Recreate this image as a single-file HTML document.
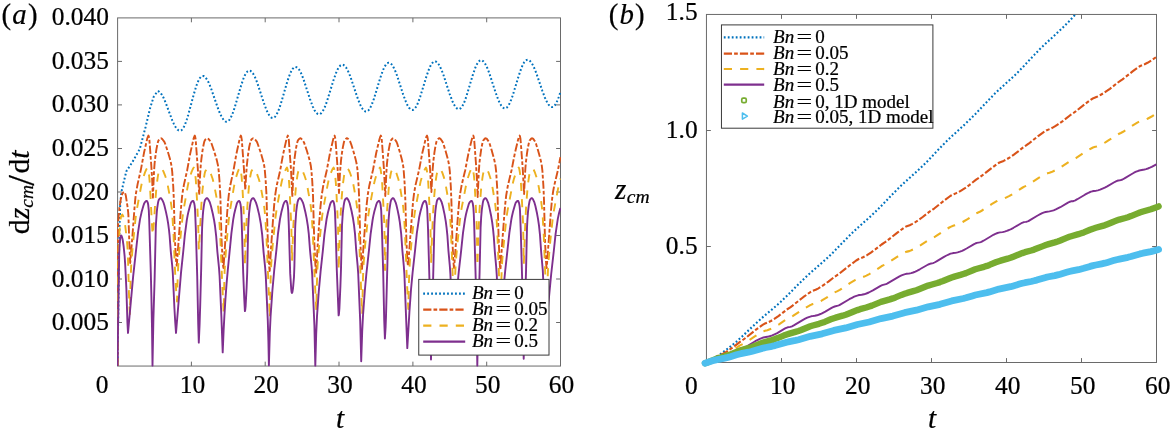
<!DOCTYPE html>
<html lang="en"><head><meta charset="utf-8"><title>Figure</title>
<style>html,body{margin:0;padding:0;background:#fff}body{width:1170px;height:437px;overflow:hidden}</style>
</head><body>
<svg width="1170" height="437" viewBox="0 0 1170 437" style="display:block;will-change:transform;font-family:'Liberation Serif','Times New Roman',serif" fill="#000000">
<style>text{stroke:#000;stroke-width:0.22px}</style>
<rect width="1170" height="437" fill="#fff"/>
<defs><clipPath id="ca"><rect x="117.0" y="17.9" width="444.0" height="348.65000000000003"/></clipPath><clipPath id="cb"><rect x="698.45" y="14.45" width="466.04999999999995" height="356.05"/></clipPath></defs>
<g stroke="#6a6a6a" stroke-width="1.0" fill="none"><rect x="117.6" y="17.9" width="442.9" height="348.15000000000003"/><path d="M191.4,366.05v-4.4M191.4,17.9v4.4M265.2,366.05v-4.4M265.2,17.9v4.4M339.0,366.05v-4.4M339.0,17.9v4.4M412.9,366.05v-4.4M412.9,17.9v4.4M486.7,366.05v-4.4M486.7,17.9v4.4M117.6,322.5h4.4M560.5,322.5h-4.4M117.6,279.0h4.4M560.5,279.0h-4.4M117.6,235.5h4.4M560.5,235.5h-4.4M117.6,192.0h4.4M560.5,192.0h-4.4M117.6,148.5h4.4M560.5,148.5h-4.4M117.6,104.9h4.4M560.5,104.9h-4.4M117.6,61.4h4.4M560.5,61.4h-4.4"/></g>
<g clip-path="url(#ca)" fill="none" stroke-linejoin="round">
<path d="M117.6,366.1L119.2,240.0L120.2,205.0L121.4,192.0L123.8,181.6L126.4,171.2L132.4,162.1L139.8,148.9L145.6,126.9L150.0,108.5L153.6,97.0L157.4,91.3L157.6,91.2L158.2,91.3L159.0,91.6L160.4,92.8L161.8,94.7L163.4,97.5L166.0,103.6L172.2,120.2L173.6,123.4L175.0,126.2L176.4,128.4L177.6,129.7L178.8,130.5L180.0,130.8L180.6,130.7L181.2,130.4L181.8,130.0L182.6,129.0L184.0,126.7L185.4,123.5L186.8,119.5L188.2,115.0L193.8,94.3L196.2,86.4L197.4,83.0L198.6,80.3L199.8,78.2L201.0,76.8L201.8,76.2L202.4,76.0L203.2,76.0L204.0,76.3L204.8,76.9L205.6,77.6L207.4,80.2L209.0,83.3L210.8,87.7L217.6,107.3L219.2,111.5L220.6,114.8L222.2,117.8L223.8,120.1L224.6,120.8L225.4,121.4L226.2,121.7L227.0,121.7L227.6,121.5L228.2,121.1L229.4,119.9L230.6,118.0L231.8,115.5L233.2,112.0L234.6,107.8L240.8,86.5L243.4,78.7L244.8,75.4L246.2,72.9L247.6,71.3L248.4,70.8L249.0,70.6L250.2,70.8L250.8,71.1L251.6,71.7L253.0,73.4L254.4,75.9L256.0,79.5L257.6,83.8L263.8,102.8L266.6,110.3L268.2,113.7L269.7,116.0L270.4,116.8L271.2,117.5L272.0,117.9L272.6,118.0L273.2,118.0L273.8,117.8L274.4,117.4L275.2,116.6L276.4,114.9L277.8,112.1L279.2,108.6L280.8,103.9L286.8,83.3L288.2,78.9L289.6,75.0L291.2,71.3L292.6,68.9L294.0,67.4L294.8,67.0L295.4,66.9L296.6,67.2L298.0,68.2L299.2,69.7L300.6,72.2L302.2,75.8L303.8,80.1L310.0,99.1L312.8,106.6L314.4,110.0L315.8,112.2L316.6,113.1L317.4,113.8L318.2,114.2L318.8,114.3L320.0,114.1L320.6,113.7L321.4,113.0L322.8,111.1L324.2,108.5L325.6,105.1L327.2,100.6L333.4,80.5L336.2,72.6L337.8,69.1L339.2,66.8L340.6,65.3L341.4,64.9L342.0,64.7L342.6,64.7L343.4,64.9L344.8,66.0L346.2,67.7L347.6,70.2L349.2,73.7L350.8,77.9L357.0,96.4L359.8,103.8L361.4,107.1L362.8,109.3L363.6,110.2L364.4,110.9L365.2,111.4L365.8,111.6L366.4,111.6L367.0,111.4L367.6,111.1L368.4,110.5L369.8,108.6L371.2,105.9L372.6,102.5L374.0,98.6L380.2,78.2L381.6,74.0L383.0,70.2L384.4,67.1L385.8,64.8L387.2,63.3L388.0,62.9L388.6,62.7L389.8,62.9L390.4,63.2L391.2,63.9L392.6,65.7L394.0,68.2L395.4,71.3L397.0,75.5L403.2,94.6L406.0,102.1L407.6,105.5L409.0,107.7L410.4,109.2L411.2,109.7L411.8,109.9L412.6,110.0L413.2,109.8L414.4,109.0L415.8,107.2L417.2,104.6L418.6,101.3L420.2,96.8L426.4,76.5L429.0,69.1L430.4,66.0L431.8,63.6L433.2,62.1L434.0,61.6L434.6,61.4L435.2,61.4L436.0,61.6L437.4,62.7L438.8,64.5L440.2,67.0L441.8,70.6L443.4,74.8L449.6,93.8L452.4,101.2L454.0,104.6L455.4,106.9L456.8,108.4L457.6,108.9L458.2,109.1L459.0,109.2L459.6,109.0L460.8,108.2L462.2,106.4L463.6,103.8L465.0,100.4L466.6,95.7L472.6,75.6L475.2,68.0L476.6,64.8L478.0,62.4L479.4,60.8L480.6,60.2L481.2,60.2L482.0,60.4L483.4,61.4L484.8,63.1L486.4,66.0L487.8,69.2L489.4,73.5L495.6,92.5L498.4,100.1L499.8,103.2L501.2,105.6L502.6,107.3L503.4,107.9L504.0,108.2L504.8,108.4L505.4,108.3L506.0,108.1L506.8,107.6L508.2,105.9L509.8,103.0L511.2,99.7L512.8,95.2L518.8,75.5L521.4,68.0L522.8,64.8L524.2,62.3L525.6,60.6L526.8,59.9L527.6,59.8L528.4,60.0L529.2,60.4L530.0,61.0L531.6,62.9L533.2,65.7L534.8,69.3L536.4,73.4L542.4,91.0L544.8,97.4L546.0,100.1L547.2,102.5L548.4,104.4L549.6,105.8L551.0,106.8L551.8,107.1L552.4,107.1L553.0,106.9L553.6,106.6L554.8,105.4L556.0,103.6L557.4,100.6L558.8,97.0L560.4,92.1" stroke="#0072BD" stroke-width="2" stroke-dasharray="1.8 2.18"/>
<path d="M117.6,366.1L118.0,230.3L118.4,218.6L119.4,208.2L120.8,199.2L121.6,195.7L122.2,193.9L123.4,192.4L124.0,192.0L124.4,192.0L125.0,192.9L125.8,195.5L127.6,207.2L128.2,212.5L128.4,215.4L129.2,239.3L130.2,263.0L132.4,236.4L134.6,206.6L135.4,197.9L136.0,193.2L137.6,184.1L141.0,169.1L144.0,152.8L147.0,139.6L147.6,137.5L148.4,135.6L148.6,135.8L148.8,136.4L149.4,139.9L151.2,164.0L152.2,180.4L152.9,197.6L154.0,171.7L154.6,163.4L155.2,158.0L156.4,149.4L157.6,143.2L158.4,140.6L159.8,138.8L160.4,138.4L161.0,138.3L161.6,138.5L162.4,139.2L164.4,141.9L165.4,144.4L168.0,152.3L170.0,159.1L171.0,163.3L171.6,166.5L172.2,171.6L173.2,185.8L173.8,198.3L174.6,230.4L175.0,241.7L176.0,259.6L176.4,264.0L176.6,265.2L176.8,265.6L180.8,210.5L181.6,201.0L182.2,195.4L183.0,189.9L184.0,184.4L187.2,170.2L190.2,153.6L193.6,138.5L194.4,136.2L194.6,135.8L194.8,135.6L195.2,136.9L195.6,139.0L197.8,168.3L199.2,195.0L200.0,176.5L200.8,164.6L201.4,158.9L202.4,151.3L203.0,147.6L203.8,143.7L204.4,141.3L204.8,140.4L205.8,139.1L206.8,138.3L207.6,138.4L208.4,138.9L209.4,140.0L210.8,141.9L211.6,143.8L213.8,150.2L216.8,160.1L218.0,165.5L218.8,171.8L219.6,182.3L220.4,197.6L221.4,235.5L221.8,244.8L222.7,261.1L223.2,266.6L223.5,268.0L227.2,212.5L228.0,202.4L228.8,194.8L230.4,184.7L233.4,171.0L236.2,154.9L239.6,139.1L240.2,137.0L240.8,135.6L241.0,135.8L241.2,136.4L241.8,139.9L244.0,169.7L245.3,190.0L246.0,177.0L246.8,165.8L247.8,156.5L249.2,147.0L250.4,141.7L250.8,140.6L251.6,139.4L252.4,138.6L253.2,138.3L254.2,138.6L255.2,139.6L256.8,141.7L257.4,143.0L260.8,152.9L263.4,161.9L264.2,165.7L264.8,170.1L265.6,179.6L266.4,193.4L267.8,240.9L268.9,262.6L269.4,268.9L269.7,271.0L271.2,245.9L273.0,219.9L274.2,204.6L275.2,195.1L276.0,189.8L277.0,184.3L280.2,170.3L283.0,154.8L286.4,139.6L287.0,137.5L287.8,135.6L288.0,135.8L288.2,136.4L288.8,139.9L291.0,169.9L291.8,184.6L292.3,197.0L293.6,168.3L294.4,159.6L295.8,149.4L297.0,143.2L297.8,140.6L298.8,139.2L299.8,138.4L300.6,138.3L301.4,138.8L302.6,140.2L304.0,142.4L306.8,150.5L309.0,157.9L310.0,161.8L310.8,165.7L311.4,170.3L312.2,180.4L313.0,195.1L314.2,239.3L315.3,263.6L316.1,274.0L317.6,246.7L319.0,225.9L320.4,207.6L321.6,195.8L323.2,185.9L326.8,170.2L330.0,153.0L333.2,139.2L334.0,136.7L334.4,135.8L334.6,135.6L335.2,137.9L335.6,141.1L337.6,168.3L339.0,193.0L340.0,172.6L341.0,160.6L342.0,152.7L342.8,147.6L343.8,142.8L344.2,141.3L344.6,140.4L345.4,139.3L346.0,138.7L346.6,138.3L347.2,138.3L347.8,138.6L348.4,139.2L350.2,141.7L351.2,144.3L353.4,151.3L355.4,158.4L356.4,162.7L357.0,165.9L357.6,171.0L358.6,185.7L359.2,199.3L360.2,239.4L361.2,260.5L361.6,266.1L362.0,269.0L363.4,247.9L365.8,215.3L366.8,203.3L367.8,194.5L369.4,185.2L373.0,169.9L376.2,153.0L379.4,139.4L380.0,137.4L380.8,135.6L381.0,135.8L381.2,136.4L381.6,138.4L382.0,142.5L384.0,169.9L385.3,196.0L386.4,171.8L387.0,163.4L387.6,158.0L388.8,149.4L390.0,143.2L390.8,140.6L392.2,138.8L392.8,138.4L393.4,138.3L394.0,138.6L394.6,139.1L396.4,141.6L397.2,143.5L399.4,150.6L401.4,157.7L402.4,161.8L403.2,166.1L403.6,169.3L404.6,183.0L405.4,201.6L406.4,241.2L407.4,260.5L407.8,264.8L408.1,266.0L412.4,209.3L413.2,200.4L414.0,193.8L415.4,185.7L419.2,169.4L422.2,153.5L425.6,139.1L426.2,137.2L426.8,135.8L427.0,135.6L427.4,136.9L427.8,139.0L428.0,141.1L430.0,168.3L431.4,192.0L432.4,172.5L433.4,160.7L434.4,152.7L435.2,147.6L436.2,142.8L436.6,141.3L437.0,140.4L437.8,139.3L438.4,138.7L439.0,138.3L439.6,138.3L440.2,138.6L440.8,139.2L442.6,141.9L443.4,143.9L445.8,151.7L447.6,158.3L448.6,162.6L449.2,165.9L449.8,171.1L450.8,186.3L451.4,200.9L452.4,241.0L453.4,261.4L453.8,266.3L454.1,268.0L458.2,212.4L459.2,201.1L460.0,194.4L461.6,185.3L465.2,170.2L468.4,153.6L471.8,139.4L472.4,137.4L473.2,135.6L473.4,135.8L473.6,136.4L474.2,139.9L476.0,164.0L477.0,180.5L477.7,197.0L478.8,171.7L479.4,163.4L480.0,158.0L481.2,149.4L482.4,143.2L483.2,140.6L484.6,138.8L485.2,138.4L485.8,138.3L486.4,138.6L487.0,139.1L488.8,141.7L489.8,144.2L492.0,151.4L494.0,158.7L495.0,163.1L495.6,166.6L496.2,172.2L497.2,188.3L497.6,197.5L498.6,238.4L499.6,260.7L500.0,266.7L500.4,270.0L502.0,245.7L504.2,216.2L505.2,204.4L506.2,195.4L507.8,186.0L511.6,170.0L514.8,153.5L518.2,139.3L518.8,137.4L519.6,135.6L519.8,135.8L520.0,136.4L520.4,138.4L520.8,142.5L522.8,169.9L524.1,194.0L525.0,174.5L525.4,168.2L526.0,161.5L527.0,153.4L527.8,148.2L528.8,143.2L529.6,140.6L531.0,138.8L531.6,138.4L532.2,138.3L532.8,138.6L533.4,139.1L535.2,141.7L536.0,143.7L538.2,150.9L540.2,158.1L541.2,162.4L541.8,165.7L542.4,170.8L543.4,185.9L544.0,200.2L545.0,240.7L546.0,261.4L546.4,266.3L546.7,268.0L550.6,215.4L551.6,203.7L552.4,196.3L553.2,191.0L554.2,185.7L558.0,169.8L560.4,157.2" stroke="#D95319" stroke-width="1.9" stroke-dasharray="8.2 2.1 3.7 2.1"/>
<path d="M117.6,366.1L118.2,278.0L118.6,250.2L119.6,230.0L120.0,224.8L120.8,217.8L121.0,216.8L121.4,215.8L122.0,214.8L122.4,214.6L123.0,215.7L123.6,217.7L124.6,222.0L125.2,225.5L127.0,241.1L127.6,249.4L128.0,258.5L129.0,294.4L129.6,309.8L129.9,314.0L130.6,280.0L131.2,265.2L132.8,245.1L135.6,218.0L137.0,208.5L141.0,187.0L142.2,181.3L143.4,177.1L145.0,172.4L146.2,169.6L147.4,167.7L147.6,167.6L147.8,168.0L148.4,170.6L149.2,176.3L149.6,180.9L150.6,197.8L151.8,222.0L152.6,235.0L153.2,230.3L154.0,221.5L155.4,199.9L156.4,187.8L157.6,178.1L158.2,174.4L158.8,171.8L159.2,170.9L159.8,170.0L160.8,168.9L161.2,168.7L161.6,168.7L162.4,169.6L163.6,171.8L165.0,175.3L166.4,179.4L167.4,183.4L170.8,201.8L171.6,207.5L172.2,213.4L173.4,231.5L175.0,269.8L175.6,281.7L176.4,294.8L177.0,301.5L177.6,280.2L178.2,266.3L179.4,249.5L180.8,234.1L182.4,218.4L183.4,210.8L187.8,185.9L189.0,180.2L190.4,175.4L191.6,171.9L192.6,169.5L193.6,167.8L193.8,167.6L194.0,167.8L194.2,168.3L195.0,172.5L195.8,179.6L197.0,199.8L198.2,224.9L198.9,250.0L201.4,204.2L202.4,191.1L203.4,181.5L204.6,173.9L205.0,172.2L205.6,170.7L206.8,169.1L207.4,168.7L207.8,168.6L208.6,169.4L209.6,171.0L211.0,174.2L212.6,178.7L214.0,184.1L217.2,201.0L218.0,206.3L218.6,211.5L219.4,221.7L220.2,235.3L222.2,282.3L223.7,313.0L224.2,286.1L224.6,271.6L225.2,260.4L226.4,244.7L228.6,221.3L229.6,212.7L233.8,187.7L235.0,181.4L236.0,177.5L237.6,172.4L238.8,169.4L239.8,167.7L240.0,167.6L240.2,168.0L240.6,169.5L241.6,176.3L242.6,190.6L244.2,222.2L244.6,238.0L245.0,265.0L246.0,234.9L246.8,216.3L247.6,202.7L249.0,185.8L250.2,176.8L251.2,171.8L251.6,170.9L252.2,170.0L253.2,168.9L253.8,168.7L254.6,169.3L255.6,170.8L256.8,173.4L258.8,179.0L259.6,181.8L260.8,187.3L263.2,200.1L264.0,205.1L264.6,209.9L265.4,219.2L266.4,235.8L269.9,318.0L270.6,279.6L271.2,264.4L272.8,244.0L275.4,218.1L276.8,208.2L280.8,186.1L281.8,181.2L283.0,176.9L284.6,172.0L285.8,169.3L286.8,167.7L287.0,167.6L287.2,168.0L287.6,169.5L288.6,176.3L289.2,183.9L289.8,194.1L291.4,228.2L292.0,261.0L293.2,229.1L294.4,205.7L296.0,185.8L296.6,180.8L297.6,174.4L298.2,171.8L298.6,170.9L299.2,170.0L300.0,169.1L300.6,168.7L301.0,168.7L301.4,169.1L302.0,169.9L302.8,171.4L304.2,174.8L305.8,179.5L307.0,184.5L310.4,203.5L311.2,209.9L311.8,216.8L312.8,233.1L314.8,280.8L316.3,310.0L316.8,286.6L317.4,268.6L318.0,259.1L319.4,242.4L321.6,220.7L322.6,212.7L323.4,207.8L327.2,187.1L328.4,181.2L329.6,177.0L331.2,172.2L332.4,169.4L333.6,167.6L333.8,167.8L334.2,169.0L335.2,175.4L335.8,182.3L336.4,192.3L338.0,224.9L338.7,270.0L339.6,239.2L340.4,218.5L341.4,201.3L342.8,184.8L344.0,176.1L344.6,173.0L345.0,171.5L346.2,169.6L346.8,169.0L347.4,168.7L347.6,168.6L348.0,169.0L349.0,170.5L350.0,172.8L351.2,176.2L352.2,179.4L353.0,182.7L354.2,189.0L356.2,200.8L357.4,210.2L358.2,220.9L359.0,235.6L361.0,286.8L362.2,314.0L363.0,276.7L363.6,263.7L365.2,244.2L368.0,217.4L369.4,208.1L373.4,186.8L374.6,181.2L375.8,177.0L377.4,172.3L378.6,169.6L379.8,167.7L380.0,167.6L380.2,168.0L380.6,169.5L381.6,176.3L382.2,183.9L383.0,197.8L384.2,222.1L384.4,228.6L385.0,270.0L386.2,230.7L387.2,208.8L388.8,187.8L389.4,182.3L390.4,175.5L391.0,172.5L391.4,171.3L392.2,170.0L392.8,169.2L393.4,168.8L393.8,168.7L394.0,168.7L394.6,169.4L395.2,170.4L396.6,173.7L398.4,179.3L399.4,183.5L402.6,202.2L403.4,208.6L404.0,215.5L405.0,232.5L407.0,283.1L408.3,309.0L408.8,286.7L409.4,269.1L410.0,259.7L411.6,241.1L413.8,220.0L414.8,212.3L419.4,187.4L420.6,181.6L421.8,177.3L423.6,172.1L424.8,169.4L426.0,167.6L426.2,167.8L426.6,169.0L427.6,175.4L428.2,182.3L428.8,192.3L430.4,224.9L431.1,262.0L432.0,236.6L433.0,214.4L433.8,201.3L435.2,184.8L436.4,176.1L437.0,173.0L437.4,171.5L438.6,169.6L439.2,169.0L439.8,168.7L440.0,168.6L440.4,169.0L441.4,170.6L442.4,172.9L443.6,176.4L444.6,179.7L445.4,183.2L448.4,200.6L449.6,210.2L450.2,218.0L451.0,232.0L453.0,283.3L454.3,312.0L455.0,280.3L455.4,269.4L456.0,260.0L457.4,243.7L459.6,222.7L460.8,213.0L461.8,207.2L466.6,182.5L467.6,178.7L469.6,172.7L471.0,169.5L472.2,167.7L472.4,167.6L472.8,168.6L473.8,174.7L474.2,178.3L474.8,187.1L476.6,222.2L477.0,238.2L477.4,266.0L478.4,235.2L479.2,216.3L480.0,202.7L481.2,187.8L482.4,178.1L483.0,174.4L483.6,171.8L484.4,170.3L485.4,169.1L486.2,168.7L486.8,169.1L487.8,170.8L488.8,173.2L490.6,178.7L491.4,181.8L492.6,188.0L494.6,200.0L495.4,205.7L496.0,211.3L496.6,219.5L497.4,234.2L500.6,315.0L501.2,284.9L501.8,267.6L502.2,261.3L503.4,247.1L506.0,222.0L506.8,215.4L507.6,210.2L512.6,184.1L514.0,178.6L515.6,173.8L516.8,170.7L517.6,169.1L518.4,167.9L518.8,167.6L519.0,168.0L519.4,169.5L520.0,173.2L520.4,176.3L520.8,180.9L521.8,197.8L523.0,222.2L523.4,237.7L523.8,264.0L525.0,229.6L526.0,208.9L526.6,199.9L527.6,187.8L528.2,182.3L529.2,175.5L529.8,172.5L530.2,171.3L531.0,170.0L531.6,169.2L532.2,168.8L532.6,168.7L532.8,168.7L533.8,170.0L535.0,172.7L536.8,178.1L537.8,182.0L539.0,188.3L541.2,201.7L542.0,208.0L542.6,214.7L543.8,235.9L545.6,283.1L546.9,312.0L547.6,280.6L548.0,269.7L548.6,260.2L550.4,240.0L552.6,219.6L553.6,212.2L558.6,185.9L559.6,181.4L560.4,178.5" stroke="#EDB120" stroke-width="1.9" stroke-dasharray="8.2 8.1"/>
<path d="M117.6,366.1L118.0,329.9L119.2,254.6L119.6,245.2L120.0,240.1L120.4,237.1L121.0,235.7L121.2,235.5L121.4,235.6L121.8,236.4L122.4,238.4L122.8,240.5L123.6,246.2L124.6,255.8L125.2,264.8L126.4,289.3L127.4,321.9L128.0,333.0L133.2,275.8L138.0,232.7L140.0,219.4L141.6,212.1L143.4,205.7L144.2,203.4L145.0,202.1L145.8,201.3L146.4,200.9L146.8,200.9L147.4,201.7L147.8,202.8L148.2,204.8L148.8,210.4L149.2,219.7L150.8,272.3L151.4,296.2L152.0,327.4L152.5,366.1L153.4,319.0L154.6,279.5L155.8,227.8L156.0,223.5L156.8,211.9L157.2,208.2L158.0,202.9L158.4,201.0L158.8,199.9L159.6,198.8L160.4,198.1L160.8,198.1L161.2,198.4L162.4,200.2L163.4,202.3L164.4,205.5L166.0,212.1L167.2,217.9L168.2,223.9L169.0,230.0L169.6,235.7L170.8,251.6L172.2,265.7L172.8,273.3L174.4,307.7L175.2,321.7L176.0,333.0L181.0,272.9L183.4,250.0L184.8,235.3L186.8,220.2L187.6,215.6L188.4,211.9L190.0,205.7L190.8,203.2L191.2,202.4L192.0,201.4L192.6,201.0L193.0,200.9L193.2,200.9L193.6,201.5L194.2,203.2L194.6,205.4L195.0,208.9L195.8,228.4L197.2,275.9L198.2,323.4L198.8,342.6L199.6,324.4L200.2,305.5L201.2,268.1L202.0,231.5L202.2,225.5L202.8,215.4L203.2,210.9L203.8,206.1L204.4,202.4L205.0,200.1L206.0,198.7L206.6,198.2L207.0,198.1L207.6,198.5L208.2,199.3L209.8,202.3L211.0,206.2L212.8,213.7L214.0,219.7L215.0,226.0L216.2,236.4L217.4,252.0L219.0,267.9L219.6,276.3L221.4,316.8L222.7,352.4L223.6,330.9L224.4,315.6L225.4,299.5L226.6,283.4L227.8,270.0L231.4,233.3L233.2,219.6L234.2,214.0L235.2,209.7L236.8,203.7L237.4,202.3L238.4,201.2L238.8,200.9L239.2,200.9L239.6,201.3L240.0,202.2L240.6,204.8L241.0,207.9L241.4,214.5L241.8,225.4L243.2,272.9L244.2,297.5L244.9,311.1L245.2,310.2L245.6,306.4L246.6,287.8L247.2,272.7L248.2,227.8L249.0,214.1L249.8,206.8L250.4,202.9L251.0,200.4L252.0,198.8L252.8,198.1L253.0,198.1L253.4,198.2L254.4,199.4L256.0,202.6L257.2,206.5L259.2,214.9L260.8,223.6L262.2,234.8L263.6,252.4L265.2,268.2L265.8,276.6L267.8,320.8L268.4,341.2L268.9,365.5L269.8,333.2L270.6,316.0L272.4,290.5L274.2,270.5L276.4,249.9L278.0,233.5L280.0,219.0L281.4,212.1L283.4,204.6L284.2,202.5L285.0,201.5L285.6,201.0L286.0,200.9L286.4,201.0L287.2,202.8L287.8,206.2L288.2,210.4L288.8,225.4L290.2,273.4L291.2,288.8L291.6,292.2L291.9,293.0L292.2,292.6L292.4,292.0L293.0,288.4L294.0,276.8L294.4,265.9L295.2,227.8L295.4,223.5L296.2,211.9L296.8,206.8L297.6,201.9L298.2,199.9L299.0,198.8L299.6,198.2L300.0,198.1L300.4,198.3L301.0,198.9L301.6,199.9L302.8,202.3L303.6,204.8L305.4,212.2L306.6,218.1L307.8,225.7L308.8,234.2L310.0,250.0L311.6,266.5L312.2,274.6L314.4,325.3L315.3,366.1L316.2,333.7L317.0,316.4L318.8,291.3L320.6,271.4L322.8,251.1L324.4,234.9L326.6,219.0L328.0,212.2L330.0,204.7L330.8,202.6L331.4,201.8L332.2,201.1L332.6,200.9L333.0,200.9L333.6,202.0L334.0,203.2L334.6,207.0L335.0,212.3L335.6,228.4L336.8,270.0L338.6,315.4L338.8,314.9L339.0,313.5L339.4,308.4L340.4,286.3L341.0,269.0L342.0,225.5L342.8,212.9L343.6,206.1L344.2,202.4L344.8,200.1L345.6,198.9L346.4,198.2L346.8,198.1L347.4,198.6L348.0,199.5L348.8,201.0L349.8,203.7L351.6,211.2L352.8,217.2L354.0,224.9L355.0,233.8L356.2,250.3L357.6,265.4L358.2,273.5L360.2,321.1L361.2,361.2L362.2,331.2L363.0,315.7L364.8,291.0L366.4,273.5L369.0,249.9L370.6,234.1L372.6,220.0L373.4,215.6L374.4,211.3L376.2,204.9L376.8,203.2L377.2,202.4L378.2,201.3L378.8,200.9L379.2,200.9L379.8,201.7L380.2,202.8L380.6,204.8L381.2,210.4L381.8,225.4L383.2,272.3L384.2,320.0L384.9,338.5L385.6,327.1L386.0,316.5L387.4,264.0L388.2,227.8L388.6,219.9L389.4,209.9L390.6,201.9L391.0,200.4L391.6,199.3L392.4,198.4L392.8,198.1L393.2,198.1L393.6,198.5L394.2,199.3L395.6,202.3L396.4,205.0L397.6,210.1L398.8,216.0L399.8,222.1L401.2,234.0L402.4,250.7L403.8,266.0L404.4,274.5L407.3,348.1L409.4,312.2L411.0,289.8L412.6,272.6L415.0,250.9L416.8,233.3L419.2,217.1L420.4,211.7L422.2,205.2L423.2,202.6L424.0,201.6L424.6,201.1L425.0,200.9L425.4,200.9L426.2,202.5L426.8,205.4L427.2,208.9L428.0,228.4L429.8,292.3L431.0,359.5L431.8,323.3L433.2,275.9L434.4,225.5L434.8,218.3L435.4,210.9L436.0,206.1L436.8,201.5L437.2,200.1L437.8,199.2L438.6,198.3L439.2,198.1L439.6,198.4L440.2,199.2L441.6,202.0L442.8,206.3L444.6,214.6L445.8,221.7L446.6,227.8L447.4,235.7L448.4,250.3L449.8,265.7L450.4,274.1L452.2,320.1L453.3,340.0L454.6,325.8L456.4,298.2L457.4,285.9L458.8,271.5L461.2,250.2L463.0,232.9L465.0,219.3L466.0,214.3L467.0,210.3L468.6,204.7L469.4,202.7L470.0,201.9L470.8,201.1L471.4,200.9L471.8,201.0L472.4,202.2L472.8,203.6L473.4,207.9L473.8,214.5L474.2,225.4L476.2,296.2L476.8,327.4L477.3,366.1L478.0,327.3L479.6,272.0L480.6,227.8L481.2,216.8L481.8,209.9L482.8,202.9L483.2,201.0L483.6,199.9L484.2,199.0L484.8,198.4L485.2,198.1L485.6,198.1L486.2,198.7L486.8,199.7L488.2,202.9L489.4,207.6L491.0,215.2L492.2,222.4L493.0,228.7L493.8,236.9L494.8,251.5L496.2,266.9L496.8,275.9L499.6,345.0L502.4,302.6L503.6,287.3L505.2,270.8L509.4,232.6L511.2,220.3L511.8,217.0L513.0,211.7L515.0,204.7L515.6,203.0L516.0,202.3L516.8,201.4L517.4,201.0L517.8,200.9L518.2,201.0L519.0,202.8L519.6,206.2L520.0,210.4L520.8,231.9L522.4,287.9L523.7,358.7L524.6,319.6L526.0,272.0L527.0,227.8L527.4,219.9L528.0,211.9L528.8,205.4L529.6,201.0L530.0,199.9L530.8,198.8L531.4,198.2L531.8,198.1L532.0,198.1L532.4,198.5L533.0,199.3L534.4,202.4L535.4,206.0L537.0,213.3L538.0,218.8L539.0,225.7L540.0,235.2L541.2,252.3L542.8,270.6L544.6,310.3L545.2,320.7L545.9,330.0L551.2,274.0L553.8,251.0L555.6,233.8L557.8,218.9L559.0,213.2L560.4,208.0" stroke="#7E2F8E" stroke-width="1.9"/>
</g>
<g font-size="25.4">
<text x="108.9" y="330.0" text-anchor="end">0.005</text>
<text x="108.9" y="286.5" text-anchor="end">0.010</text>
<text x="108.9" y="243.0" text-anchor="end">0.015</text>
<text x="108.9" y="199.5" text-anchor="end">0.020</text>
<text x="108.9" y="156.0" text-anchor="end">0.025</text>
<text x="108.9" y="112.4" text-anchor="end">0.030</text>
<text x="108.9" y="68.9" text-anchor="end">0.035</text>
<text x="108.9" y="25.4" text-anchor="end">0.040</text>
<text x="102.2" y="393.4" text-anchor="middle">0</text>
<text x="192.4" y="393.4" text-anchor="middle">10</text>
<text x="266.2" y="393.4" text-anchor="middle">20</text>
<text x="340.0" y="393.4" text-anchor="middle">30</text>
<text x="413.9" y="393.4" text-anchor="middle">40</text>
<text x="487.7" y="393.4" text-anchor="middle">50</text>
<text x="561.5" y="393.4" text-anchor="middle">60</text>
</g>
<text x="340" y="427.8" font-size="29.5" font-style="italic" text-anchor="middle">t</text>
<text x="1.6" y="24.3" font-size="28.8">(<tspan font-style="italic" dx="1.1">a</tspan><tspan dx="1.2">)</tspan></text>
<text transform="translate(28.7,234.3) rotate(-90)" font-size="29.8"><tspan x="0">d</tspan><tspan x="15.0" font-style="italic">z</tspan><tspan x="26.6" dy="4.6" font-style="italic" font-size="19.5">cm</tspan><tspan x="48.6" dy="0.9" font-size="38.4">/</tspan><tspan x="60.8" dy="-5.5">d</tspan><tspan x="75.6" font-style="italic">t</tspan></text>
<rect x="418.75" y="279.4" width="130.25" height="75.7" fill="#fff" stroke="#3a3a3a" stroke-width="1.0"/>
<g fill="none" stroke-width="2.2">
<path d="M423.2,293.6H465.2" stroke="#0072BD" stroke-dasharray="1.8 2.18"/>
<path d="M423.2,309.6H465.2" stroke="#D95319" stroke-dasharray="8.2 2.1 3.7 2.1"/>
<path d="M423.2,325.6H465.2" stroke="#EDB120" stroke-dasharray="8.2 8.1"/>
<path d="M423.2,341.6H465.2" stroke="#7E2F8E"/>
</g>
<text x="472.0" y="298.8" font-size="19.0" font-style="italic">Bn</text><text transform="translate(503.3,298.8) scale(1.46,1)" font-size="19.0" text-anchor="middle">=</text><text x="514.2" y="298.8" font-size="19.0">0</text>
<text x="472.0" y="315.0" font-size="19.0" font-style="italic">Bn</text><text transform="translate(503.3,315.0) scale(1.46,1)" font-size="19.0" text-anchor="middle">=</text><text x="514.2" y="315.0" font-size="19.0">0.05</text>
<text x="472.0" y="331.3" font-size="19.0" font-style="italic">Bn</text><text transform="translate(503.3,331.3) scale(1.46,1)" font-size="19.0" text-anchor="middle">=</text><text x="514.2" y="331.3" font-size="19.0">0.2</text>
<text x="472.0" y="347.4" font-size="19.0" font-style="italic">Bn</text><text transform="translate(503.3,347.4) scale(1.46,1)" font-size="19.0" text-anchor="middle">=</text><text x="514.2" y="347.4" font-size="19.0">0.5</text>
<g stroke="#6a6a6a" stroke-width="1.0" fill="none"><rect x="706.45" y="14.45" width="450.04999999999995" height="348.05"/><path d="M781.5,362.5v-4.4M781.5,14.45v4.4M856.5,362.5v-4.4M856.5,14.45v4.4M931.5,362.5v-4.4M931.5,14.45v4.4M1006.5,362.5v-4.4M1006.5,14.45v4.4M1081.5,362.5v-4.4M1081.5,14.45v4.4M706.45,246.5h4.4M1156.5,246.5h-4.4M706.45,130.5h4.4M1156.5,130.5h-4.4"/></g>
<g clip-path="url(#cb)" fill="none" stroke-linejoin="round" stroke-linecap="butt">
<path d="M706.5,362.5L707.1,362.4L707.7,362.3L709.1,361.6L712.8,359.3L716.8,356.6L722.7,352.4L728.2,348.3L732.3,345.1L736.3,341.7L741.8,336.8L753.0,326.1L758.7,320.8L764.4,315.8L775.5,306.5L780.8,301.8L786.5,296.3L798.9,283.8L805.2,277.6L810.5,272.8L822.5,262.3L828.0,257.3L833.7,251.8L846.1,239.0L852.2,232.9L858.3,227.3L870.9,216.1L877.0,210.3L882.2,205.0L893.8,192.9L899.7,187.0L905.6,181.5L917.6,170.7L923.3,165.3L928.6,160.0L940.4,147.5L946.1,141.7L952.0,136.1L964.6,124.6L970.4,119.0L975.7,113.7L987.5,101.2L993.2,95.3L999.1,89.6L1011.3,78.5L1016.8,73.3L1022.5,67.5L1034.3,54.9L1039.9,49.1L1046.5,42.8L1057.8,32.3L1062.7,27.7L1068.4,22.0L1075.5,14.4" stroke="#0072BD" stroke-width="2.1" stroke-dasharray="1.8 2.18"/>
<path d="M706.5,362.5L707.1,362.3L708.9,361.3L715.2,357.5L717.4,356.2L718.4,355.7L721.3,354.6L723.5,353.5L726.2,351.9L729.4,349.8L733.9,346.6L740.0,341.8L743.4,339.5L745.5,338.0L756.0,329.6L761.9,325.3L763.4,324.4L764.4,323.8L768.4,322.2L770.9,321.0L774.3,318.9L778.4,316.1L781.8,313.5L786.9,309.5L790.6,307.1L792.6,305.6L803.2,297.2L809.3,292.8L811.7,291.3L815.6,289.8L818.0,288.6L821.1,286.7L824.9,284.1L828.4,281.6L833.9,277.3L837.5,274.8L839.4,273.5L850.1,265.0L856.2,260.5L858.7,259.0L862.5,257.5L864.8,256.4L867.4,254.9L870.9,252.6L875.3,249.4L881.6,244.5L885.1,242.2L887.1,240.7L897.7,232.4L903.6,228.0L905.0,227.1L906.0,226.6L909.7,225.2L911.9,224.1L914.8,222.5L918.2,220.2L922.7,217.0L929.2,211.9L932.6,209.6L934.5,208.3L944.8,200.1L950.3,196.0L951.7,195.1L952.8,194.6L956.4,193.1L958.9,192.0L961.5,190.4L965.0,188.2L969.6,184.8L976.1,179.7L979.6,177.4L981.6,175.9L991.8,167.9L997.3,163.9L999.5,162.5L1003.6,160.9L1006.2,159.6L1009.9,157.3L1013.9,154.6L1017.6,151.8L1022.9,147.7L1026.5,145.2L1028.6,143.7L1038.5,135.8L1044.0,131.8L1046.2,130.4L1050.1,128.9L1052.3,127.8L1054.8,126.4L1058.0,124.3L1063.1,120.8L1070.2,115.2L1073.5,113.0L1075.3,111.7L1085.7,103.5L1091.2,99.5L1093.4,98.2L1096.9,96.8L1099.1,95.8L1101.3,94.5L1104.2,92.7L1107.2,90.7L1109.9,88.8L1117.4,82.9L1120.6,80.7L1122.5,79.4L1132.6,71.4L1138.1,67.3L1140.3,66.0L1144.6,64.3L1147.5,62.8L1151.7,60.2L1156.4,56.9" stroke="#D95319" stroke-width="2.1" stroke-dasharray="8.2 2.1 3.7 2.1"/>
<path d="M706.5,362.5L707.1,362.4L708.3,361.9L713.8,359.1L716.4,357.9L717.8,357.4L719.9,357.0L722.3,356.0L724.3,355.1L726.8,353.8L731.4,351.0L739.6,345.7L741.0,344.9L744.0,343.4L746.1,342.2L755.2,336.2L759.5,333.5L761.9,332.2L763.6,331.4L765.0,330.8L767.4,330.2L769.2,329.5L771.9,328.4L774.7,326.8L779.0,324.3L786.7,319.2L788.4,318.3L791.0,317.1L793.0,315.9L803.0,309.3L808.1,306.3L809.9,305.3L811.5,304.6L812.9,304.1L815.0,303.6L817.0,302.9L819.0,302.0L821.5,300.7L825.7,298.2L833.7,292.9L835.3,292.1L837.5,291.1L839.8,289.9L849.9,283.1L855.0,280.1L857.0,279.0L858.7,278.3L860.1,277.9L861.9,277.5L864.2,276.6L866.4,275.6L868.8,274.3L873.3,271.7L881.4,266.3L883.1,265.4L885.3,264.5L887.5,263.2L897.5,256.6L902.4,253.7L904.2,252.7L905.8,252.0L907.0,251.6L909.3,251.1L911.3,250.3L913.5,249.3L916.0,248.0L920.7,245.2L928.8,239.9L930.4,239.0L932.8,238.0L935.1,236.7L944.6,230.4L949.3,227.5L951.1,226.6L952.6,226.0L953.8,225.6L955.8,225.1L958.0,224.3L960.3,223.2L962.7,222.0L967.6,219.1L975.9,213.6L977.6,212.7L979.8,211.8L982.0,210.5L991.6,204.2L996.3,201.4L998.1,200.4L999.5,199.8L1000.7,199.4L1002.8,198.9L1004.8,198.2L1007.0,197.1L1009.5,195.9L1014.3,193.0L1022.7,187.5L1024.3,186.6L1026.7,185.6L1029.0,184.3L1038.3,178.1L1043.0,175.3L1044.8,174.3L1046.2,173.7L1047.5,173.3L1049.5,172.8L1051.5,172.1L1053.8,171.0L1056.0,169.9L1061.1,166.9L1069.8,161.2L1071.4,160.3L1073.7,159.3L1075.9,158.1L1085.5,151.8L1089.9,149.1L1091.6,148.2L1093.0,147.5L1094.4,147.1L1096.4,146.6L1097.7,146.2L1100.1,145.1L1102.5,143.9L1105.4,142.3L1108.0,140.7L1117.0,134.9L1118.6,134.0L1120.8,133.0L1123.1,131.8L1132.4,125.6L1136.9,122.9L1138.7,121.9L1140.1,121.3L1141.4,120.8L1144.0,120.2L1147.5,118.7L1151.7,116.5L1156.4,113.6" stroke="#EDB120" stroke-width="2.1" stroke-dasharray="8.2 8.1"/>
<path d="M706.5,362.5L707.3,362.4L708.1,362.1L712.5,360.1L714.8,359.2L716.0,358.9L718.6,358.5L720.9,358.0L723.3,357.2L725.8,356.2L728.0,355.1L730.2,353.9L738.0,349.4L739.2,348.8L741.0,348.1L742.6,348.0L743.6,347.7L745.3,347.1L747.3,346.0L755.2,341.2L757.9,339.8L759.9,338.8L761.7,338.1L763.4,337.5L768.6,336.5L770.5,336.0L772.3,335.4L774.5,334.4L777.2,333.1L785.1,328.4L786.3,327.8L787.7,327.3L790.4,326.9L792.0,326.3L794.2,325.1L802.6,320.1L805.2,318.7L807.3,317.7L809.5,316.8L811.1,316.3L812.3,316.1L814.8,315.8L817.0,315.3L819.2,314.5L821.5,313.6L825.3,311.6L831.6,307.9L833.1,307.1L834.7,306.5L837.9,305.7L839.4,305.1L849.3,299.2L852.0,297.8L854.2,296.7L856.4,295.8L858.1,295.3L859.5,295.0L861.7,294.8L864.0,294.3L866.4,293.5L868.8,292.5L872.9,290.4L880.6,285.9L882.2,285.2L885.9,284.2L887.1,283.6L896.9,277.9L899.5,276.4L901.5,275.4L903.6,274.6L905.2,274.1L906.6,273.8L908.9,273.6L911.1,273.1L913.1,272.5L915.4,271.6L917.4,270.6L919.8,269.3L928.2,264.5L930.0,263.8L933.1,263.1L934.5,262.5L936.5,261.4L944.0,256.9L946.5,255.5L948.5,254.6L950.5,253.7L952.2,253.3L953.4,253.0L955.4,252.9L957.6,252.4L959.9,251.7L962.1,250.8L964.1,249.8L966.6,248.5L974.1,244.1L975.3,243.5L976.9,242.9L979.8,242.4L981.4,241.8L983.5,240.7L991.0,236.2L993.4,234.8L995.4,233.8L997.5,233.0L998.9,232.6L1000.1,232.4L1002.6,232.1L1004.6,231.6L1006.8,230.9L1009.1,230.0L1011.1,229.1L1013.5,227.8L1022.1,222.8L1023.9,222.1L1025.7,221.9L1026.7,221.7L1028.4,221.1L1030.4,219.9L1037.7,215.5L1040.2,214.2L1042.2,213.2L1044.2,212.4L1045.6,212.0L1049.5,211.4L1051.5,210.9L1053.6,210.3L1055.8,209.4L1057.8,208.4L1060.3,207.2L1068.0,202.6L1069.2,202.0L1071.0,201.3L1072.7,201.2L1073.7,201.0L1075.3,200.3L1077.3,199.2L1084.9,194.7L1087.3,193.4L1089.1,192.5L1091.0,191.7L1092.4,191.3L1093.8,191.0L1096.2,190.7L1097.9,190.3L1100.1,189.7L1102.5,188.7L1104.8,187.7L1107.2,186.4L1115.1,181.8L1116.4,181.2L1118.2,180.5L1119.8,180.3L1120.8,180.1L1122.5,179.5L1124.5,178.4L1131.8,174.0L1134.0,172.7L1136.1,171.7L1137.7,171.1L1139.3,170.5L1140.5,170.2L1144.4,169.5L1146.0,169.1L1147.9,168.5L1149.9,167.7L1151.7,166.9L1156.4,164.3" stroke="#7E2F8E" stroke-width="1.9"/>
</g>
<g fill="none" stroke-linejoin="round" stroke-linecap="round">
<path d="M705.0,363.2L706.7,362.7L713.0,360.1L716.0,358.9L718.6,358.1L724.7,356.4L727.8,355.4L730.4,354.4L736.5,351.9L739.6,350.8L742.2,349.9L748.3,348.2L751.4,347.3L754.0,346.3L760.1,343.8L763.2,342.6L765.8,341.8L771.9,340.1L774.9,339.1L777.6,338.1L783.7,335.6L786.7,334.5L789.4,333.6L795.5,331.9L798.5,331.0L801.2,330.0L807.3,327.5L810.3,326.3L812.9,325.5L819.0,323.8L822.1,322.8L824.7,321.9L830.8,319.3L833.9,318.2L836.5,317.4L842.6,315.7L845.7,314.7L848.3,313.7L854.4,311.2L857.4,310.1L860.1,309.2L866.2,307.5L869.2,306.5L871.9,305.6L878.0,303.1L881.0,301.9L883.7,301.1L889.8,299.4L892.8,298.4L895.5,297.4L901.5,294.9L904.6,293.8L907.2,292.9L913.3,291.2L916.4,290.3L919.0,289.3L925.1,286.8L928.2,285.6L931.2,284.7L937.3,283.0L940.0,282.1L943.0,281.0L949.1,278.5L951.7,277.5L954.4,276.6L960.5,274.9L963.3,274.0L966.0,273.1L972.3,270.5L975.3,269.3L978.0,268.5L984.1,266.8L986.9,265.9L989.5,264.9L995.8,262.3L998.9,261.2L1001.5,260.4L1007.6,258.7L1010.5,257.8L1013.3,256.7L1019.4,254.2L1022.3,253.1L1025.0,252.2L1031.2,250.5L1034.1,249.6L1036.7,248.6L1043.0,246.1L1045.8,245.0L1048.6,244.1L1054.8,242.4L1057.6,241.5L1060.3,240.5L1066.6,237.9L1069.4,236.8L1072.1,236.0L1078.4,234.2L1081.2,233.3L1083.8,232.4L1090.1,229.8L1093.0,228.7L1095.8,227.8L1101.7,226.1L1104.6,225.3L1107.4,224.2L1113.5,221.7L1116.6,220.6L1119.4,219.6L1125.3,218.0L1127.9,217.2L1131.0,216.1L1137.1,213.6L1139.9,212.5L1143.0,211.5L1150.9,209.2L1158.6,206.4" stroke="#77AC30" stroke-width="6.4"/>
<path d="M705.0,363.2L712.5,360.8L716.0,359.9L718.6,359.3L724.7,358.1L727.8,357.4L730.4,356.7L736.5,354.8L739.6,354.0L742.2,353.4L748.3,352.2L751.4,351.5L763.2,348.1L765.8,347.5L771.9,346.3L774.9,345.6L786.7,342.2L789.4,341.6L795.5,340.4L798.5,339.7L810.3,336.3L822.1,333.8L833.9,330.4L845.7,327.9L857.4,324.5L869.2,322.0L881.0,318.6L892.8,316.1L904.6,312.7L916.4,310.2L928.2,306.8L940.0,304.3L951.7,300.9L963.3,298.5L966.0,297.8L972.3,295.9L975.3,295.0L986.9,292.6L989.5,291.9L995.8,290.0L998.9,289.1L1010.5,286.7L1013.3,285.9L1019.4,284.1L1022.3,283.3L1025.0,282.7L1031.2,281.5L1034.1,280.8L1036.7,280.1L1043.0,278.2L1045.8,277.4L1048.6,276.8L1054.8,275.6L1057.6,274.9L1060.3,274.2L1066.6,272.3L1069.4,271.5L1072.1,270.9L1078.4,269.7L1081.2,269.0L1083.8,268.3L1090.1,266.4L1093.0,265.6L1095.8,265.0L1101.7,263.8L1104.6,263.2L1107.4,262.4L1113.5,260.6L1116.6,259.7L1119.4,259.1L1127.9,257.3L1131.0,256.5L1137.1,254.7L1139.9,253.9L1143.0,253.2L1150.9,251.6L1158.6,249.5" stroke="#4DBEEE" stroke-width="6.8"/>
</g>
<g font-size="25.4">
<text x="697.6" y="20.3" text-anchor="end">1.5</text>
<text x="697.6" y="137.5" text-anchor="end">1.0</text>
<text x="697.6" y="254.4" text-anchor="end">0.5</text>
<text x="691.3" y="393.6" text-anchor="middle">0</text>
<text x="782.8" y="393.6" text-anchor="middle">10</text>
<text x="857.8" y="393.6" text-anchor="middle">20</text>
<text x="932.8" y="393.6" text-anchor="middle">30</text>
<text x="1007.8" y="393.6" text-anchor="middle">40</text>
<text x="1082.8" y="393.6" text-anchor="middle">50</text>
<text x="1157.8" y="393.6" text-anchor="middle">60</text>
</g>
<text x="932.2" y="428.0" font-size="29.5" font-style="italic" text-anchor="middle">t</text>
<text x="608.8" y="24.3" font-size="28.8">(<tspan font-style="italic" dx="1.1">b</tspan><tspan dx="1.2">)</tspan></text>
<text x="614.9" y="199.4" font-size="29.2" font-style="italic">z<tspan font-size="19.6" dx="0.6" dy="3.4">cm</tspan></text>
<rect x="721.45" y="24.9" width="211.45" height="103.3" fill="#fff" stroke="#3a3a3a" stroke-width="1.0"/>
<g fill="none" stroke-width="2.2">
<path d="M723.8,37.4H764.2" stroke="#0072BD" stroke-dasharray="1.8 2.18"/>
<path d="M723.8,53.6H764.2" stroke="#D95319" stroke-dasharray="8.2 2.1 3.7 2.1"/>
<path d="M723.8,69.0H764.2" stroke="#EDB120" stroke-dasharray="8.2 8.1"/>
<path d="M723.8,84.6H764.2" stroke="#7E2F8E"/>
<rect x="741.75" y="98.05" width="4.5" height="4.5" rx="1.4" stroke="#77AC30" stroke-width="1.7"/>
<path d="M742.4,113.0L747.4,116.1L742.4,119.2Z" stroke="#4DBEEE" stroke-width="1.5" stroke-linejoin="round"/>
</g>
<text x="773.1" y="42.8" font-size="19.0" font-style="italic">Bn</text><text transform="translate(804.4,42.8) scale(1.46,1)" font-size="19.0" text-anchor="middle">=</text><text x="815.3" y="42.8" font-size="19.0">0</text>
<text x="773.1" y="59.0" font-size="19.0" font-style="italic">Bn</text><text transform="translate(804.4,59.0) scale(1.46,1)" font-size="19.0" text-anchor="middle">=</text><text x="815.3" y="59.0" font-size="19.0">0.05</text>
<text x="773.1" y="74.9" font-size="19.0" font-style="italic">Bn</text><text transform="translate(804.4,74.9) scale(1.46,1)" font-size="19.0" text-anchor="middle">=</text><text x="815.3" y="74.9" font-size="19.0">0.2</text>
<text x="773.1" y="91.0" font-size="19.0" font-style="italic">Bn</text><text transform="translate(804.4,91.0) scale(1.46,1)" font-size="19.0" text-anchor="middle">=</text><text x="815.3" y="91.0" font-size="19.0">0.5</text>
<text x="773.1" y="107.5" font-size="19.0" font-style="italic">Bn</text><text transform="translate(804.4,107.5) scale(1.46,1)" font-size="19.0" text-anchor="middle">=</text><text x="815.3" y="107.5" font-size="19.0">0, 1D model</text>
<text x="773.1" y="123.1" font-size="19.0" font-style="italic">Bn</text><text transform="translate(804.4,123.1) scale(1.46,1)" font-size="19.0" text-anchor="middle">=</text><text x="815.3" y="123.1" font-size="19.0">0.05, 1D model</text>
</svg>
</body></html>
